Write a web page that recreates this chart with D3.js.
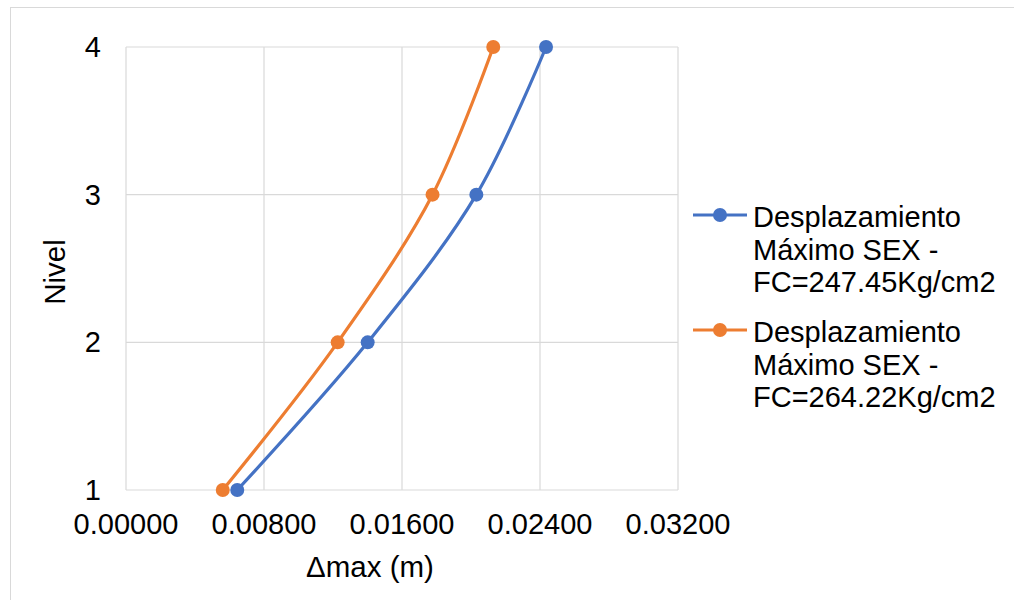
<!DOCTYPE html>
<html>
<head>
<meta charset="utf-8">
<script src="https://cdn.jsdelivr.net/npm/d3@7"></script>
<style>
  html, body { margin: 0; padding: 0; background: #fff; }
  svg { display: block; }
  text { font-family: "Liberation Sans", Arial, sans-serif; fill: #000; }
</style>
</head>
<body>
<svg id="chart" width="1014" height="600"></svg>
<script>
// ---- data ----
const levels = [1, 2, 3, 4];
const seriesBlueValues = [0.00645, 0.01401, 0.02031, 0.02435];
const seriesOrangeValues = [0.00561, 0.01227, 0.01777, 0.02129];
const seriesNames = [
  ["Desplazamiento", "Máximo SEX -", "FC=247.45Kg/cm2"],
  ["Desplazamiento", "Máximo SEX -", "FC=264.22Kg/cm2"]
];
const xTicks = [0, 0.008, 0.016, 0.024, 0.032];
const yTicks = [1, 2, 3, 4];
const xTitle = "Δmax (m)";
const yTitle = "Nivel";

const colors = ["#4472C4", "#ED7D31"];
const series = [seriesBlueValues, seriesOrangeValues];

const svg = d3.select("#chart");
const W = 1014, H = 600;
const plot = { left: 126, right: 678, top: 47, bottom: 490 };
const FS = 29;

// outer chart border
svg.append("rect")
  .attr("x", 10.5).attr("y", 7.5)
  .attr("width", W + 20).attr("height", H + 20)
  .attr("fill", "#fff").attr("stroke", "#d9d9d9").attr("stroke-width", 1);

const x = d3.scaleLinear().domain([0, 0.032]).range([plot.left, plot.right]);
const y = d3.scaleLinear().domain([1, 4]).range([plot.bottom, plot.top]);

// gridlines
const grid = svg.append("g").attr("stroke", "#d9d9d9").attr("stroke-width", 1.2);
grid.selectAll("line.vx").data(xTicks).enter().append("line")
  .attr("x1", d => x(d)).attr("x2", d => x(d))
  .attr("y1", plot.top).attr("y2", plot.bottom);
grid.selectAll("line.hy").data(yTicks).enter().append("line")
  .attr("x1", plot.left).attr("x2", plot.right)
  .attr("y1", d => y(d)).attr("y2", d => y(d));

// x tick labels
svg.append("g").selectAll("text").data(xTicks).enter().append("text")
  .attr("x", d => x(d)).attr("y", 534)
  .attr("text-anchor", "middle").attr("font-size", FS)
  .text(d => d3.format(".5f")(d));

// y tick labels
svg.append("g").selectAll("text").data(yTicks).enter().append("text")
  .attr("x", 101).attr("y", d => y(d) + 10)
  .attr("text-anchor", "end").attr("font-size", FS)
  .text(d => d);

// axis titles
svg.append("text").attr("x", 370).attr("y", 577)
  .attr("text-anchor", "middle").attr("font-size", FS + 0.5).text(xTitle);
svg.append("text").attr("transform", "translate(65,272) rotate(-90)")
  .attr("text-anchor", "middle").attr("font-size", FS + 0.5).text(yTitle);

// lines
const line = d3.line()
  .x(d => x(d.v)).y(d => y(d.l))
  .curve(d3.curveCatmullRom.alpha(0.5));

series.forEach((vals, i) => {
  const pts = levels.map((l, j) => ({ l, v: vals[j] }));
  svg.append("path").datum(pts)
    .attr("d", line).attr("fill", "none")
    .attr("stroke", colors[i]).attr("stroke-width", 3.2)
    .attr("stroke-linejoin", "round").attr("stroke-linecap", "round");
  svg.append("g").selectAll("circle").data(pts).enter().append("circle")
    .attr("cx", d => x(d.v)).attr("cy", d => y(d.l)).attr("r", 7)
    .attr("fill", colors[i]);
});

// legend
const legendY = [215, 330];
seriesNames.forEach((lines, i) => {
  const g = svg.append("g");
  const ly = legendY[i];
  g.append("line").attr("x1", 693).attr("x2", 747)
    .attr("y1", ly).attr("y2", ly)
    .attr("stroke", colors[i]).attr("stroke-width", 3.2);
  g.append("circle").attr("cx", 720).attr("cy", ly).attr("r", 7).attr("fill", colors[i]);
  lines.forEach((t, k) => {
    g.append("text").attr("x", 753).attr("y", ly + 12 + k * 32.5)
      .attr("font-size", FS).text(t);
  });
});
</script>
</body>
</html>
